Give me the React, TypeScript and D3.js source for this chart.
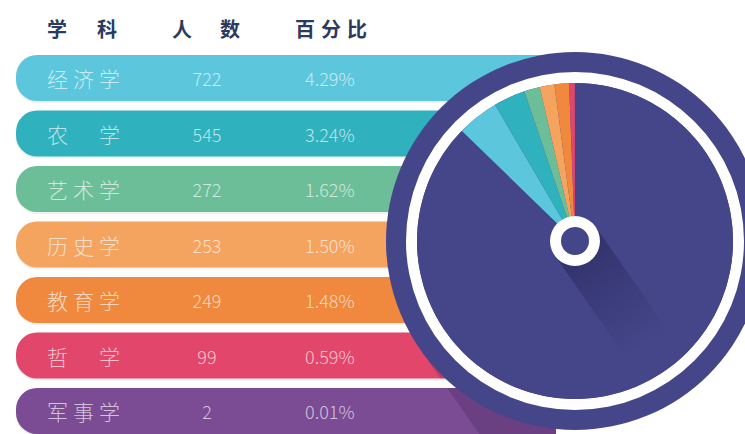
import React from "react";
import * as d3 from "d3";

const headers = ["学　科", "人　数", "百分比"];
const subjects = ["经济学", "农　学", "艺术学", "历史学", "教育学", "哲　学", "军事学"];
const counts = [722, 545, 272, 253, 249, 99, 2];
const percents = ["4.29%", "3.24%", "1.62%", "1.50%", "1.48%", "0.59%", "0.01%"];
const otherCount = 14688;
const colors = ["#5bc6dc", "#2fb1be", "#6cbe99", "#f4a45f", "#f0883d", "#e2466a", "#7b4b93"];
const navy = "#45468a";

const W = 745;
const H = 434;
const C = { x: 575, y: 241 };
const R_OUT = 189;
const R_RING_OUT = 169;
const R_PIE = 158;
const BAR_X0 = 16;
const BAR_X1 = 556;

export default function App() {
  const y = d3
    .scaleBand<string>()
    .domain(subjects)
    .range([50.25, 438.75])
    .paddingInner(0.171)
    .paddingOuter(0.0855);
  const bw = y.bandwidth();

  const pieData = [...counts, otherCount];
  const total = d3.sum(pieData);
  const subjFrac = d3.sum(counts) / total;
  const start = -subjFrac * 2 * Math.PI;
  const pie = d3
    .pie<number>()
    .sort(null)
    .startAngle(start)
    .endAngle(start + 2 * Math.PI);
  const arcs = pie(pieData);
  const arc = d3.arc<d3.PieArcDatum<number>>().innerRadius(0).outerRadius(R_PIE);
  const ringArc = d3.arc()({ innerRadius: R_PIE, outerRadius: R_RING_OUT, startAngle: 0, endAngle: 2 * Math.PI }) as string;
  const hubArc = d3.arc()({ innerRadius: 14, outerRadius: 25, startAngle: 0, endAngle: 2 * Math.PI }) as string;

  const ang = (55 * Math.PI) / 180;
  const d = { x: Math.cos(ang), y: Math.sin(ang) };
  const n = { x: -d.y, y: d.x };
  const shadowPoly = (r: number, L: number) => {
    const p1 = [C.x + r * n.x, C.y + r * n.y];
    const p2 = [C.x + r * n.x + L * d.x, C.y + r * n.y + L * d.y];
    const p3 = [C.x - r * n.x + L * d.x, C.y - r * n.y + L * d.y];
    const p4 = [C.x - r * n.x, C.y - r * n.y];
    return d3.line()([p1, p2, p3, p4] as [number, number][]) + "Z";
  };

  const barPath = (top: number) => {
    const r = 21;
    const p = d3.path();
    p.moveTo(BAR_X0 + r, top);
    p.lineTo(BAR_X1, top);
    p.lineTo(BAR_X1, top + bw);
    p.lineTo(BAR_X0 + r, top + bw);
    p.arcTo(BAR_X0, top + bw, BAR_X0, top + bw - r, r);
    p.lineTo(BAR_X0, top + r);
    p.arcTo(BAR_X0, top, BAR_X0 + r, top, r);
    p.closePath();
    return p.toString();
  };

  const font = "'Noto Sans CJK SC', 'Noto Sans', sans-serif";
  const headerPos = [
    { x: 47, len: 70 },
    { x: 172, len: 68 },
    { x: 295, len: 72 },
  ];

  return (
    <svg
      width={W}
      height={H}
      style={{ position: "absolute", left: 0, top: 0, display: "block", background: "#fff" }}
    >
      <defs>
        <clipPath id="barsClip">
          {subjects.map((s) => (
            <path key={s} d={barPath(y(s) as number)} />
          ))}
        </clipPath>
        <clipPath id="pieClip">
          <circle cx={C.x} cy={C.y} r={R_PIE} />
        </clipPath>
        <linearGradient
          id="hubShadow"
          gradientUnits="userSpaceOnUse"
          x1={C.x}
          y1={C.y}
          x2={C.x + 125 * d.x}
          y2={C.y + 125 * d.y}
        >
          <stop offset="0" stopColor="#1c1d4a" stopOpacity={0.5} />
          <stop offset="1" stopColor="#1c1d4a" stopOpacity={0} />
        </linearGradient>
      </defs>

      {headers.map((h, i) => (
        <text
          key={h}
          x={headerPos[i].x}
          y={28}
          dominantBaseline="central"
          textLength={headerPos[i].len}
          lengthAdjust="spacing"
          fontFamily={font}
          fontWeight={700}
          fontSize={20}
          fill="#2b3a5e"
        >
          {h}
        </text>
      ))}

      {subjects.map((s, i) => (
        <g key={s}>
          <path d={barPath((y(s) as number) + 2)} fill="rgba(0,0,0,0.06)" />
          <path d={barPath(y(s) as number)} fill={colors[i]} />
        </g>
      ))}

      <g clipPath="url(#barsClip)">
        <path d={shadowPoly(R_OUT, 400)} fill="rgba(20,10,50,0.16)" />
      </g>

      {subjects.map((s, i) => {
        const cy = (y(s) as number) + bw / 2;
        return (
          <g key={s} fill="#ffffff" fillOpacity={0.68} fontFamily={font} fontWeight={300}>
            <text x={47} y={cy} dominantBaseline="central" fontSize={21} textLength={73} lengthAdjust="spacing">
              {s}
            </text>
            <text x={207} y={cy} dominantBaseline="central" textAnchor="middle" fontSize={18}>
              {counts[i]}
            </text>
            <text x={305} y={cy} dominantBaseline="central" fontSize={18}>
              {percents[i]}
            </text>
          </g>
        );
      })}

      <circle cx={C.x} cy={C.y} r={R_OUT} fill={navy} />
      <path d={ringArc} transform={`translate(${C.x},${C.y})`} fill="#ffffff" />
      <g transform={`translate(${C.x},${C.y})`}>
        {arcs.map((a, i) => (
          <path key={i} d={arc(a) as string} fill={i < colors.length ? colors[i] : navy} />
        ))}
      </g>
      <g clipPath="url(#pieClip)">
        <path d={shadowPoly(25, 125)} fill="url(#hubShadow)" />
      </g>
      <circle cx={C.x} cy={C.y} r={14} fill={navy} />
      <path d={hubArc} transform={`translate(${C.x},${C.y})`} fill="#ffffff" />
    </svg>
  );
}
